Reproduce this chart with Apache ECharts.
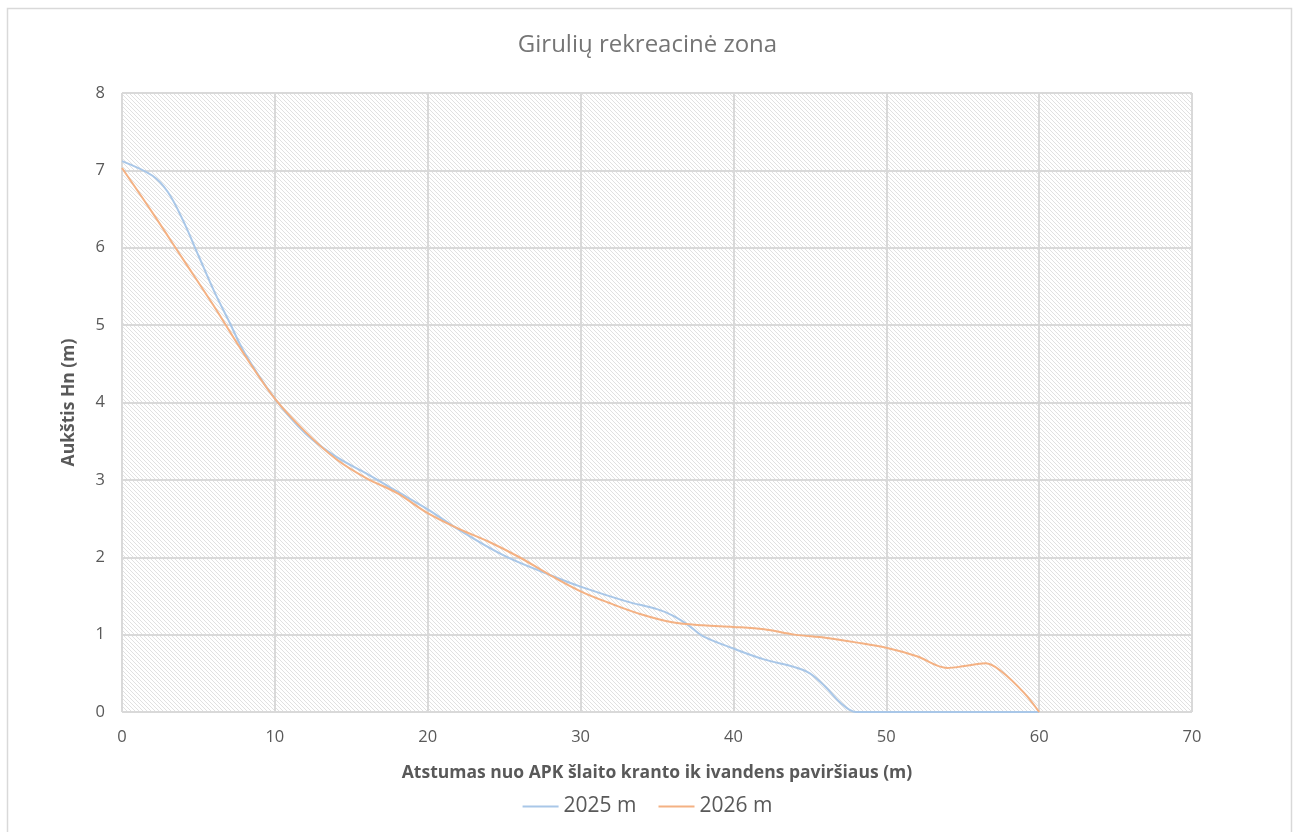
<!DOCTYPE html>
<html><head><meta charset="utf-8">
<script src="https://cdn.jsdelivr.net/npm/echarts@6/dist/echarts.min.js"></script>
<style>html,body{margin:0;padding:0;background:#fff}#c{width:1295px;height:832px}</style>
</head><body><div id="c"></div>
<script>
const title = "Girulių rekreacinė zona";
const xAxisName = "Atstumas nuo APK šlaito kranto ik ivandens paviršiaus (m)";
const yAxisName = "Aukštis Hn (m)";
const seriesNames = ["2025 m", "2026 m"];
const x2025 = [0,2,3,4,5,6,7,8,10,12,14,16,18,20,22,25,28,30,33,35,36,37,38,40,42,44,45,46,47,48,50,55,60];
const y2025 = [7.12,6.93,6.72,6.35,5.9,5.45,5.05,4.65,4.05,3.6,3.3,3.08,2.85,2.62,2.36,2.02,1.77,1.62,1.43,1.33,1.25,1.13,0.98,0.82,0.68,0.58,0.5,0.33,0.12,0,0,0,0];
const x2026 = [0,2,4,6,8,10,12,14,16,18,20,22,24,26,28,30,32,34,36,38,40,42,44,46,48,50,52,54,55,56.5,57.5,59,60];
const y2026 = [7.03,6.45,5.85,5.25,4.62,4.05,3.62,3.27,3.02,2.83,2.57,2.37,2.2,2.0,1.77,1.56,1.4,1.26,1.16,1.12,1.1,1.07,1.0,0.96,0.9,0.83,0.72,0.57,0.59,0.63,0.53,0.25,0];

const pc = document.createElement('canvas');
pc.width = 4; pc.height = 4;
const g = pc.getContext('2d');
g.fillStyle = '#ffffff'; g.fillRect(0,0,4,4);
g.fillStyle = '#e1e1e1';
for (let i = 0; i < 4; i++) { g.fillRect(i, i, 1, 1); }

const chart = echarts.init(document.getElementById('c'));
const font = '"Open Sans", "Noto Sans", sans-serif';
chart.setOption({
  animation: false,
  textStyle: {fontFamily: font},
  title: {text: title, left: 'center', top: 28, textStyle: {fontFamily: font, fontSize: 24, fontWeight: 'normal', color: '#757575'}},
  graphic: [{type: 'rect', shape: {x: 7.5, y: 8.5, width: 1284, height: 830}, style: {fill: 'none', stroke: '#d9d9d9', lineWidth: 1.5}, silent: true}],
  legend: {bottom: 10, left: 'center', itemWidth: 36, itemHeight: 2, itemGap: 22, icon: 'rect',
    textStyle: {fontFamily: font, fontSize: 21, color: '#595959', padding: [0, 0, 0, 0]}, data: seriesNames},
  grid: {left: 122, right: 103, top: 93, bottom: 120, show: true, borderWidth: 0,
    backgroundColor: {image: pc, repeat: 'repeat'}},
  xAxis: {type: 'value', min: 0, max: 70, interval: 10,
    name: xAxisName, nameLocation: 'middle', nameGap: 52,
    nameTextStyle: {fontFamily: font, fontSize: 17.5, fontWeight: 'bold', color: '#595959'},
    axisLine: {show: false}, axisTick: {show: false},
    axisLabel: {fontSize: 16.5, color: '#595959', margin: 17},
    splitLine: {lineStyle: {color: '#d9d9d9', width: 2}}},
  yAxis: {type: 'value', min: 0, max: 8, interval: 1,
    name: yAxisName, nameLocation: 'middle', nameGap: 44,
    nameTextStyle: {fontFamily: font, fontSize: 17.5, fontWeight: 'bold', color: '#595959'},
    axisLine: {show: false}, axisTick: {show: false},
    axisLabel: {fontSize: 16.5, color: '#595959', margin: 17},
    splitLine: {lineStyle: {color: '#d9d9d9', width: 2}}},
  series: [
    {name: seriesNames[0], type: 'line', smooth: 0.35, showSymbol: false, clip: true,
      data: x2025.map((x, i) => [x, y2025[i]]),
      lineStyle: {color: '#a9c7e8', width: 2}, itemStyle: {color: '#a9c7e8'}},
    {name: seriesNames[1], type: 'line', smooth: 0.35, showSymbol: false, clip: true,
      data: x2026.map((x, i) => [x, y2026[i]]),
      lineStyle: {color: '#f4b183', width: 2}, itemStyle: {color: '#f4b183'}}
  ]
});
</script></body></html>
